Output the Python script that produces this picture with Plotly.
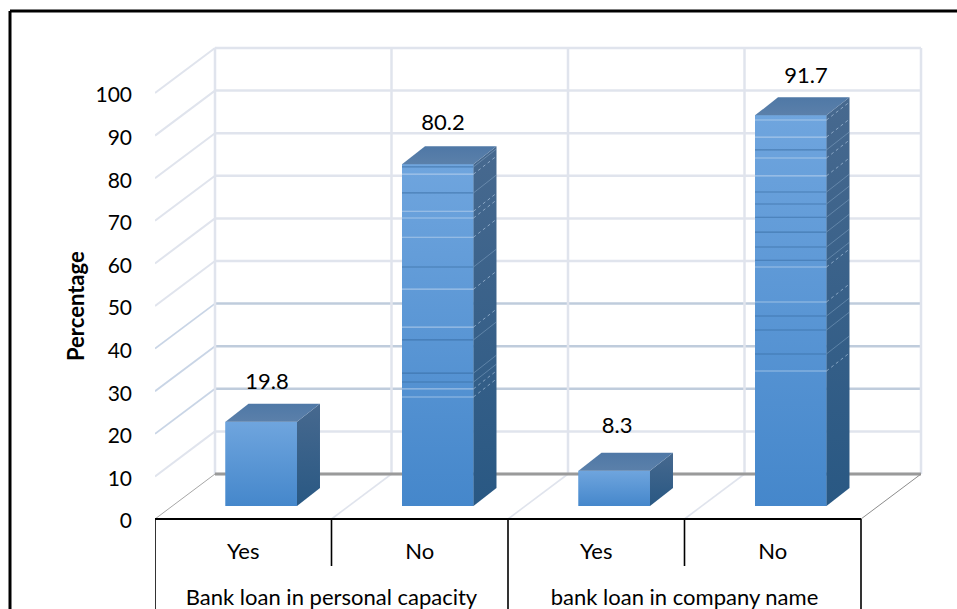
import plotly.graph_objects as go

# Survey results
categories = ["Yes", "No", "Yes", "No"]
groups = ["Bank loan in personal capacity", "bank loan in company name"]
values = [19.8, 80.2, 8.3, 91.7]
y_ticks = [0, 10, 20, 30, 40, 50, 60, 70, 80, 90, 100]
y_title = "Percentage"

# Faint horizontal seams on the tall columns, in percent above the column foot
seams_light = {1: [77.9, 69.2, 67.6, 63.1, 50.9, 42.0, 27.5, 25.6],
               3: [90.6, 86.6, 81.7, 77.5, 56.1, 47.9, 31.7]}
seams_dark = {1: [79.6, 73.5, 56.1, 39.0, 31.2, 29.1],
              3: [83.6, 73.7, 70.9, 67.8, 64.3, 60.8, 57.7, 44.6, 41.3, 35.7]}

# Oblique projection of the pseudo-3D box, in axis units
WIDTH, HEIGHT = 957, 609
X_PX, Y_PX = 176.5, 4.26       # pixels per category / per percent
LEFT_PX, ZERO_PX = 155, 519    # where the axes meet
WALL_DX, WALL_DY = 60 / X_PX, 45 / Y_PX
BAR_DX, BAR_DY = 23 / X_PX, 18 / Y_PX
BAR_W, BAR_SHIFT, BAR_FOOT = 0.405, 0.102, 3.05
LABEL_DX = [0.135, 0.132, 0.118, 0.188]
LABEL_DY = [12.1, 12.4, 13.2, 11.9]
X0, X1 = -0.5, 3.5

GRID = "#e0e4ed"
GRID_BLUE = "#bfccdc"
BLUE_TICKS = [20, 30, 40]
FONT = "Lato"

x_range = [X0, X0 + (WIDTH - LEFT_PX) / X_PX]
y_range = [-(HEIGHT - ZERO_PX) / Y_PX, ZERO_PX / Y_PX]

shapes = []


def seg(x0, y0, x1, y1, color, width, dash="solid"):
    shapes.append(dict(type="line", xref="x", yref="y", layer="below",
                       x0=x0, y0=y0, x1=x1, y1=y1,
                       line=dict(color=color, width=width, dash=dash)))


# Back wall and side wall gridlines
for t in y_ticks:
    blue = t in BLUE_TICKS
    seg(X0 + WALL_DX, t + WALL_DY, X1 + WALL_DX, t + WALL_DY, GRID_BLUE if blue else GRID, 2.5)
    if t:
        seg(X0, t, X0 + WALL_DX, t + WALL_DY,
            "#c9d5e6" if blue else GRID, 1.8 if blue else 2)
for k in range(5):
    bx = X0 + k + WALL_DX
    seg(bx, WALL_DY, bx, 100 + WALL_DY, GRID, 2.5)
    if 0 < k < 4:
        seg(X0 + k, 0, bx, WALL_DY, GRID, 1.6)

# Floor edges
seg(X0 + WALL_DX, WALL_DY, X1 + WALL_DX, WALL_DY, "#9a9a9a", 3)
seg(X0, 0, X0 + WALL_DX, WALL_DY, "#a6a6a6", 1)
seg(X1, 0, X1 + WALL_DX, WALL_DY, "#8c8c8c", 1)

# Two-level category table under the floor
y_short = -47 / Y_PX
seg(X0, 0, X1, 0, "#000000", 2)
for k, bottom in enumerate([y_range[0], y_short, y_range[0], y_short, y_range[0]]):
    seg(X0 + k, 0, X0 + k, bottom, "#000000", 1.6)

# Frame around the chart, cut by the right and bottom page edges
for x0, y0, x1, y1 in [(10, 11, WIDTH, 11), (10, 11, 10, HEIGHT)]:
    shapes.append(dict(type="line", xref="paper", yref="paper", layer="above",
                       x0=x0 / WIDTH, x1=x1 / WIDTH,
                       y0=1 - y0 / HEIGHT, y1=1 - y1 / HEIGHT,
                       line=dict(color="#000000", width=3)))

fig = go.Figure()

# Front faces of the columns
centres = [i + BAR_SHIFT for i in range(len(values))]
fig.add_trace(go.Bar(x=centres, y=values, base=[BAR_FOOT] * len(values),
                     width=BAR_W, marker=dict(color="#5596d6", line=dict(width=0)),
                     hoverinfo="skip", showlegend=False))


def face(xs, ys, top, bottom):
    fig.add_trace(go.Scatter(
        x=xs, y=ys, mode="lines", fill="toself", line=dict(width=0),
        fillgradient=dict(type="vertical", colorscale=[[0, bottom], [1, top]]),
        hoverinfo="skip", showlegend=False))


def stripe(xs, ys, colour, width, dash="solid"):
    fig.add_trace(go.Scatter(x=xs, y=ys, mode="lines",
                             line=dict(color=colour, width=width, dash=dash),
                             hoverinfo="skip", showlegend=False))


for i, v in enumerate(values):
    xl = centres[i] - BAR_W / 2
    xr = centres[i] + BAR_W / 2
    yb, yt = BAR_FOOT, BAR_FOOT + v
    # front gradient scales with height, lightest at the top of each column
    face([xl, xr, xr, xl, xl], [yb, yb, yt, yt, yb], "#6fa5de", "#4587cb")
    face([xr, xr + BAR_DX, xr + BAR_DX, xr, xr],
         [yb, yb + BAR_DY, yt + BAR_DY, yt, yb], "#47698f", "#295883")
    face([xl, xr, xr + BAR_DX, xl + BAR_DX, xl],
         [yt, yt, yt + BAR_DY, yt + BAR_DY, yt], "#4f78a6", "#5b80aa")
    for h in seams_light.get(i, []):
        stripe([xl, xr], [yb + h, yb + h], "rgba(205,222,242,0.6)", 1.1)
        stripe([xr, xr + BAR_DX], [yb + h, yb + h + BAR_DY],
               "rgba(190,212,236,0.65)", 0.9, "dot")
    for h in seams_dark.get(i, []):
        stripe([xl, xr], [yb + h, yb + h], "rgba(48,98,152,0.55)", 1.1)
        stripe([xr, xr + BAR_DX], [yb + h, yb + h + BAR_DY],
               "rgba(165,195,225,0.45)", 0.8)

# Value labels above each column
fig.add_trace(go.Scatter(
    x=[i + d for i, d in enumerate(LABEL_DX)],
    y=[v + d for v, d in zip(values, LABEL_DY)],
    mode="text", text=[str(v) for v in values],
    textfont=dict(family=FONT, size=22, color="#000000"),
    textposition="middle center", hoverinfo="skip", showlegend=False))

# Category table text
fig.add_trace(go.Scatter(
    x=list(range(len(categories))), y=[(ZERO_PX - 553) / Y_PX] * len(categories),
    mode="text", text=categories,
    textfont=dict(family=FONT, size=22, color="#000000"),
    hoverinfo="skip", showlegend=False))
fig.add_trace(go.Scatter(
    x=[0.5, 2.5], y=[(ZERO_PX - 599) / Y_PX] * len(groups),
    mode="text", text=groups,
    textfont=dict(family=FONT, size=22, color="#000000"),
    hoverinfo="skip", showlegend=False))

fig.update_layout(
    width=WIDTH, height=HEIGHT,
    margin=dict(l=0, r=0, t=0, b=0),
    paper_bgcolor="#ffffff", plot_bgcolor="#ffffff",
    showlegend=False, shapes=shapes,
    xaxis=dict(domain=[LEFT_PX / WIDTH, 1], range=x_range, visible=False, fixedrange=True),
    yaxis=dict(domain=[0, 1], range=y_range, tickmode="array", tickvals=y_ticks,
               ticktext=[str(t) for t in y_ticks], showgrid=False, zeroline=False,
               showline=False, ticks="", ticklabelstandoff=22, ticklabelshift=2,
               fixedrange=True,
               tickfont=dict(family=FONT, size=21, color="#000000")),
    annotations=[dict(text="<b>" + y_title + "</b>", xref="paper", yref="paper",
                      x=75 / WIDTH, y=1 - 306 / HEIGHT, xanchor="center", yanchor="middle",
                      textangle=-90, showarrow=False,
                      font=dict(family=FONT, size=22, color="#000000"))],
)

fig.write_html("out.html", config=dict(displayModeBar=False))
